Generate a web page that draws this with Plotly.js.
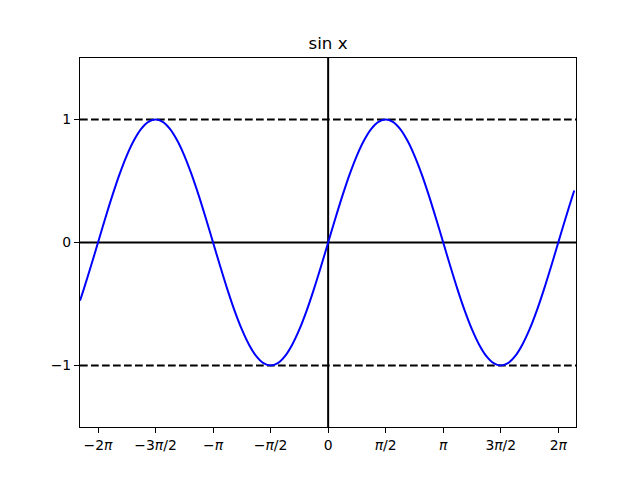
<!DOCTYPE html>
<html>
<head>
<meta charset="utf-8">
<script src="https://cdn.plot.ly/plotly-3.0.1.min.js"></script>
<style>html,body{margin:0;padding:0;background:#fff;}</style>
</head>
<body>
<div id="chart" style="width:640px;height:480px;"></div>
<script>
// curve samples
const xs = [-6.775, -6.676, -6.480, -6.283, -6.087, -5.890, -5.694, -5.498, -5.301, -5.105, -4.909, -4.712, -4.516, -4.320, -4.123, -3.927, -3.731, -3.534, -3.338,
            -3.142, -2.945, -2.749, -2.553, -2.356, -2.160, -1.963, -1.767, -1.571, -1.374, -1.178, -0.982, -0.785, -0.589, -0.393, -0.196,
            0.000, 0.196, 0.393, 0.589, 0.785, 0.982, 1.178, 1.374, 1.571, 1.767, 1.963, 2.160, 2.356, 2.553, 2.749, 2.945,
            3.142, 3.338, 3.534, 3.731, 3.927, 4.123, 4.320, 4.516, 4.712, 4.909, 5.105, 5.301, 5.498, 5.694, 5.890, 6.087, 6.283, 6.480, 6.676, 6.720];
const ys = [-0.472, -0.383, -0.195, 0.000, 0.195, 0.383, 0.556, 0.707, 0.831, 0.924, 0.981, 1.000, 0.981, 0.924, 0.831, 0.707, 0.556, 0.383, 0.195,
            0.000, -0.195, -0.383, -0.556, -0.707, -0.831, -0.924, -0.981, -1.000, -0.981, -0.924, -0.831, -0.707, -0.556, -0.383, -0.195,
            0.000, 0.195, 0.383, 0.556, 0.707, 0.831, 0.924, 0.981, 1.000, 0.981, 0.924, 0.831, 0.707, 0.556, 0.383, 0.195,
            0.000, -0.195, -0.383, -0.556, -0.707, -0.831, -0.924, -0.981, -1.000, -0.981, -0.924, -0.831, -0.707, -0.556, -0.383, -0.195, 0.000, 0.195, 0.383, 0.423];
const solidHLines = [0];
const dashedHLines = [1, -1];
const vLines = [0];
const xTickVals = [-6.2832, -4.7124, -3.1416, -1.5708, 0, 1.5708, 3.1416, 4.7124, 6.2832];
const xTickText = ["\u22122<i>\u03c0</i>", "\u22123<i>\u03c0</i>/2", "\u2212<i>\u03c0</i>", "\u2212<i>\u03c0</i>/2", "0", "<i>\u03c0</i>/2", "<i>\u03c0</i>", "3<i>\u03c0</i>/2", "2<i>\u03c0</i>"];
const yTickVals = [-1, 0, 1];
const yTickText = ["\u22121", "0", "1"];
const xRange = [-6.775, 6.767];
const yRange = [-1.5, 1.5];

const shapes = [];
solidHLines.forEach(v => shapes.push({type:'line', xref:'paper', x0:0, x1:1, yref:'y', y0:v, y1:v, line:{color:'black', width:2}, layer:'below'}));
dashedHLines.forEach(v => shapes.push({type:'line', xref:'paper', x0:0, x1:1, yref:'y', y0:v, y1:v, line:{color:'black', width:2, dash:'7.7px,3.3px'}, layer:'below'}));
vLines.forEach(v => shapes.push({type:'line', yref:'paper', y0:0, y1:1, xref:'x', x0:v, x1:v, line:{color:'black', width:2}, layer:'below'}));

const trace = {x: xs, y: ys, type:'scatter', mode:'lines', line:{color:'#0000ff', width:2, shape:'spline', smoothing:0.8}, hoverinfo:'skip'};

const font = {family:'DejaVu Sans, sans-serif', size:13.9, color:'black'};
const layout = {
  width:640, height:480,
  margin:{l:80, r:64, t:58, b:53, pad:0},
  paper_bgcolor:'white', plot_bgcolor:'white',
  showlegend:false,
  font: font,
  title:{text:'sin x', font:{family:'DejaVu Sans, sans-serif', size:16.7, color:'black'}, x:0.5125, xanchor:'center', yref:'container', y:1-43/480, yanchor:'middle'},
  xaxis:{range:xRange, tickmode:'array', tickvals:xTickVals, ticktext:xTickText, ticks:'outside', ticklen:5, tickwidth:1, tickcolor:'black', showline:true, mirror:true, linecolor:'black', linewidth:1.1, showgrid:false, zeroline:false, tickfont:font, fixedrange:true},
  yaxis:{range:yRange, tickmode:'array', tickvals:yTickVals, ticktext:yTickText, ticks:'outside', ticklen:5, tickwidth:1, tickcolor:'black', showline:true, mirror:true, linecolor:'black', linewidth:1.1, showgrid:false, zeroline:false, tickfont:font, fixedrange:true},
  shapes: shapes
};
Plotly.newPlot('chart', [trace], layout, {displayModeBar:false, staticPlot:true});
</script>
</body>
</html>
